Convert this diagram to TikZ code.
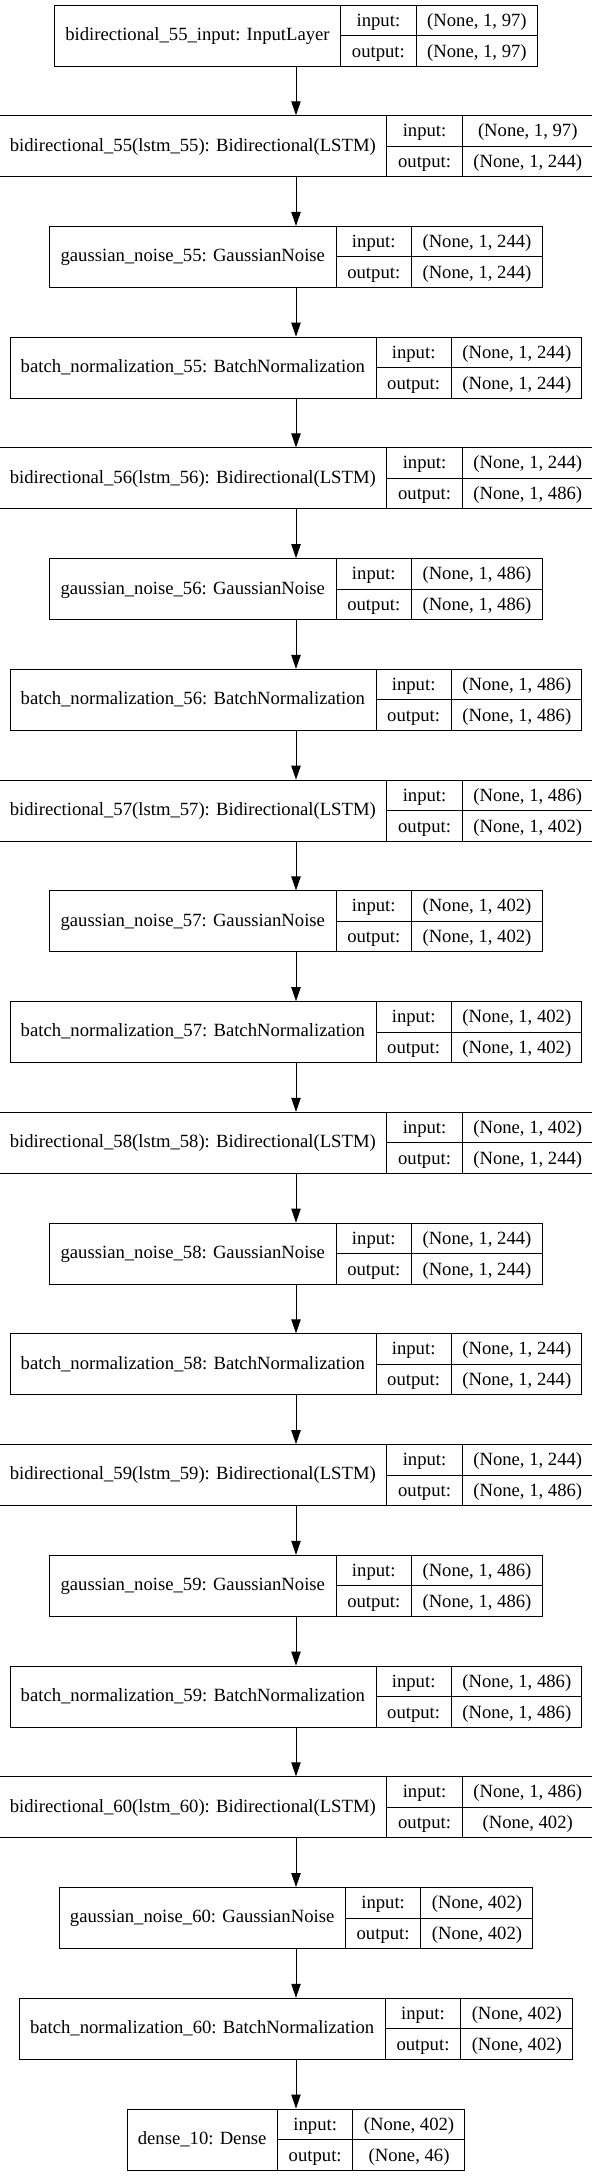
\documentclass[tikz,border=0pt]{standalone}
\usepackage{fontspec}
\setmainfont{Liberation Serif}
\usepackage{array}
\usetikzlibrary{arrows.meta}
\setlength{\tabcolsep}{8pt}
\setlength{\arrayrulewidth}{0.75pt}
\renewcommand{\arraystretch}{1.3235}
\newcommand{\keraslayer}[3]{%
  \begin{tabular}{c|@{}c@{}}
    #1 & \begin{tabular}{c|c} input: & #2 \\ \hline output: & #3 \end{tabular}
  \end{tabular}}

\begin{document}
\begin{tikzpicture}[->, >={Triangle[length=10.5pt, width=7pt]}, line width=0.75pt,
    rec/.style = {draw, inner sep=0pt, font=\fontsize{14}{17}\selectfont}]
    \useasboundingbox (0,0) rectangle (444pt,-1632pt);
    % Nodes

    \node[rec] (inp) at (222pt, -26.63pt) {\keraslayer{bidirectional\_55\_input: InputLayer}{(None, 1, 97)}{(None, 1, 97)}};
    \node[rec] (bi55) at (222pt, -109.69pt) {\keraslayer{bidirectional\_55(lstm\_55): Bidirectional(LSTM)}{(None, 1, 97)}{(None, 1, 244)}};
    \node[rec] (gn55) at (222pt, -192.74pt) {\keraslayer{gaussian\_noise\_55: GaussianNoise}{(None, 1, 244)}{(None, 1, 244)}};
    \node[rec] (bn55) at (222pt, -275.80pt) {\keraslayer{batch\_normalization\_55: BatchNormalization}{(None, 1, 244)}{(None, 1, 244)}};

    \node[rec] (bi56) at (222pt, -358.85pt) {\keraslayer{bidirectional\_56(lstm\_56): Bidirectional(LSTM)}{(None, 1, 244)}{(None, 1, 486)}};
    \node[rec] (gn56) at (222pt, -441.91pt) {\keraslayer{gaussian\_noise\_56: GaussianNoise}{(None, 1, 486)}{(None, 1, 486)}};
    \node[rec] (bn56) at (222pt, -524.96pt) {\keraslayer{batch\_normalization\_56: BatchNormalization}{(None, 1, 486)}{(None, 1, 486)}};

    \node[rec] (bi57) at (222pt, -608.02pt) {\keraslayer{bidirectional\_57(lstm\_57): Bidirectional(LSTM)}{(None, 1, 486)}{(None, 1, 402)}};
    \node[rec] (gn57) at (222pt, -691.07pt) {\keraslayer{gaussian\_noise\_57: GaussianNoise}{(None, 1, 402)}{(None, 1, 402)}};
    \node[rec] (bn57) at (222pt, -774.13pt) {\keraslayer{batch\_normalization\_57: BatchNormalization}{(None, 1, 402)}{(None, 1, 402)}};

    \node[rec] (bi58) at (222pt, -857.18pt) {\keraslayer{bidirectional\_58(lstm\_58): Bidirectional(LSTM)}{(None, 1, 402)}{(None, 1, 244)}};
    \node[rec] (gn58) at (222pt, -940.24pt) {\keraslayer{gaussian\_noise\_58: GaussianNoise}{(None, 1, 244)}{(None, 1, 244)}};
    \node[rec] (bn58) at (222pt, -1023.29pt) {\keraslayer{batch\_normalization\_58: BatchNormalization}{(None, 1, 244)}{(None, 1, 244)}};

    \node[rec] (bi59) at (222pt, -1106.35pt) {\keraslayer{bidirectional\_59(lstm\_59): Bidirectional(LSTM)}{(None, 1, 244)}{(None, 1, 486)}};
    \node[rec] (gn59) at (222pt, -1189.40pt) {\keraslayer{gaussian\_noise\_59: GaussianNoise}{(None, 1, 486)}{(None, 1, 486)}};
    \node[rec] (bn59) at (222pt, -1272.46pt) {\keraslayer{batch\_normalization\_59: BatchNormalization}{(None, 1, 486)}{(None, 1, 486)}};

    \node[rec] (bi60) at (222pt, -1355.51pt) {\keraslayer{bidirectional\_60(lstm\_60): Bidirectional(LSTM)}{(None, 1, 486)}{(None, 402)}};
    \node[rec] (gn60) at (222pt, -1438.57pt) {\keraslayer{gaussian\_noise\_60: GaussianNoise}{(None, 402)}{(None, 402)}};
    \node[rec] (bn60) at (222pt, -1521.62pt) {\keraslayer{batch\_normalization\_60: BatchNormalization}{(None, 402)}{(None, 402)}};
    \node[rec] (dense10) at (222pt, -1604.68pt) {\keraslayer{dense\_10: Dense}{(None, 402)}{(None, 46)}};

    % Edges

    \draw (inp) -- (bi55);
    \draw (bi55) -- (gn55);
    \draw (gn55) -- (bn55);
    \draw (bn55) -- (bi56);
    \draw (bi56) -- (gn56);
    \draw (gn56) -- (bn56);
    \draw (bn56) -- (bi57);
    \draw (bi57) -- (gn57);
    \draw (gn57) -- (bn57);
    \draw (bn57) -- (bi58);
    \draw (bi58) -- (gn58);
    \draw (gn58) -- (bn58);
    \draw (bn58) -- (bi59);
    \draw (bi59) -- (gn59);
    \draw (gn59) -- (bn59);
    \draw (bn59) -- (bi60);
    \draw (bi60) -- (gn60);
    \draw (gn60) -- (bn60);
    \draw (bn60) -- (dense10);

\end{tikzpicture}
\end{document}
